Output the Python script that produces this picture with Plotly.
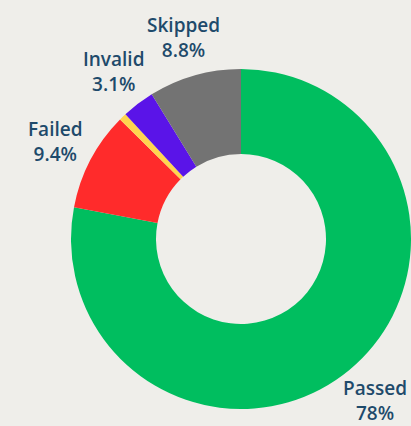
import math
import plotly.graph_objects as go

labels = ["Passed", "Failed", "Other", "Invalid", "Skipped"]
values = [78, 9.4, 0.7, 3.1, 8.8]
colors = ["#00BE5F", "#FF2B2B", "#FFD54F", "#5A14E8", "#737373"]
show_label = [True, True, False, True, True]

fig = go.Figure(go.Pie(
    labels=labels,
    values=values,
    marker=dict(colors=colors, line=dict(width=0)),
    hole=0.5,
    sort=False,
    direction="clockwise",
    rotation=0,
    textinfo="none",
    showlegend=False,
    hoverinfo="label+percent",
    domain=dict(x=[0, 1], y=[0, 1]),
))

# outside labels placed along each slice's mid-angle
total = sum(values)
cum = 0.0
label_r = 1.235  # relative to outer radius
for lab, v, s in zip(labels, values, show_label):
    mid = (cum + v / 2) / total * 2 * math.pi
    cum += v
    if not s:
        continue
    pct = v / total * 100
    pct_txt = f"{pct:.3g}%"
    x = 0.5 + 0.5 * label_r * math.sin(mid)
    y = 0.5 + 0.5 * label_r * math.cos(mid)
    fig.add_annotation(
        x=x, y=y, xref="paper", yref="paper",
        text=f"{lab}<br>{pct_txt}",
        showarrow=False, xanchor="center", yanchor="middle", align="center",
        font=dict(family="Open Sans", size=19, color="#1E4A6B", weight=600),
    )

fig.update_layout(
    width=411, height=426,
    margin=dict(l=71, r=0, t=69, b=17),
    paper_bgcolor="#EFEEEA",
    plot_bgcolor="#EFEEEA",
)

fig.write_html("out.html", config={"displayModeBar": False})

with open("out.html", "r", encoding="utf-8") as f:
    html = f.read()
html = html.replace("<head>", "<head><style>html,body{margin:0;padding:0;background:#EFEEEA;overflow:hidden;}</style>", 1)
with open("out.html", "w", encoding="utf-8") as f:
    f.write(html)
